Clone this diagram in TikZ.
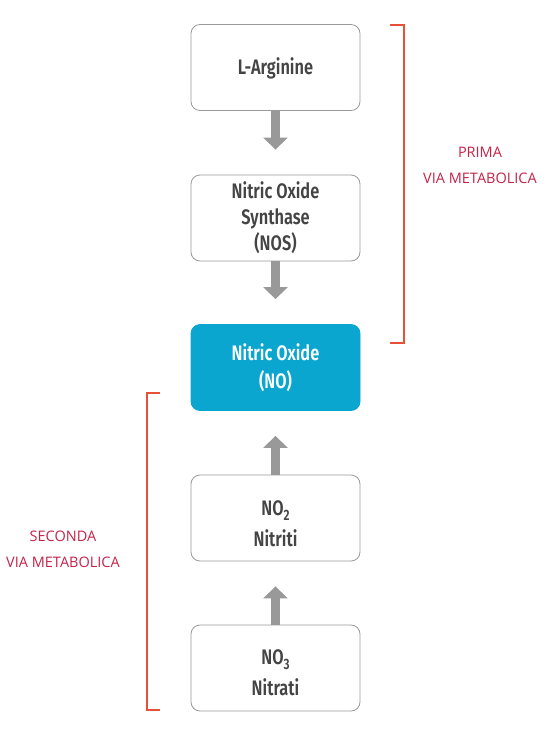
\documentclass[tikz,border=0pt]{standalone}
\usepackage{fontspec}
\usetikzlibrary{arrows.meta}
\newfontfamily\boxfont{Fira Sans}[UprightFont={* SemiBold},FakeStretch=0.78]
\newfontfamily\labfont{Open Sans}
\definecolor{boxtext}{HTML}{444444}
\definecolor{boxline}{HTML}{9A9A9A}
\definecolor{arrowgray}{HTML}{999999}
\definecolor{noblue}{HTML}{0BA6CF}
\definecolor{brackred}{HTML}{E8503A}
\definecolor{labred}{HTML}{C42348}
\newcommand{\subnum}[1]{{\fontsize{15}{15}\selectfont\raisebox{-5pt}{#1}}}
\begin{document}
\begin{tikzpicture}[x=1pt,y=-1pt,
  stepbox/.style={draw=boxline,line width=0.8pt,rounded corners=9pt,fill=white,
    minimum width=169pt,minimum height=86pt,inner sep=0pt,align=center,
    text=boxtext,font=\boxfont\fontsize{21}{26}\selectfont},
  hibox/.style={stepbox,draw=noblue,fill=noblue,text=white},
  flow/.style={draw=arrowgray,line width=9pt,shorten >=25pt,
    -{Triangle[width=24pt,length=12pt]},arrowgray},
  bracket/.style={draw=brackred,line width=1.2pt},
  lab/.style={text=labred,align=center,font=\labfont\fontsize{14.5}{26}\selectfont}]
\useasboundingbox (0,0) rectangle (553,748);
\node[stepbox] (arg) at (275.5,67.5) {\rule{0pt}{19pt}L-Arginine};
\node[stepbox] (nos) at (275.5,218) {Nitric Oxide\\Synthase\\(NOS)};
\node[hibox] (no) at (275.5,367.5) {Nitric Oxide\\[2pt](NO)};
\node[stepbox] (no2) at (275.5,518) {\rule{0pt}{27pt}NO\subnum{2}\\[5pt]Nitriti};
\node[stepbox] (no3) at (275.5,668) {\rule{0pt}{25pt}NO\subnum{3}\\[5pt]Nitrati};
\draw[flow] (arg.south) -- (nos.north);
\draw[flow] (nos.south) -- (no.north);
\draw[flow] (no2.north) -- (no.south);
\draw[flow] (no3.north) -- (no2.south);
\draw[bracket] (390,25) -- (404,25) -- (404,343) -- (390,343);
\draw[bracket] (160,393) -- (147,393) -- (147,710) -- (160,710);
\node[lab] (prima) at (480,165) {PRIMA\\VIA METABOLICA};
\node[lab] (seconda) at (63,549) {SECONDA\\VIA METABOLICA};
\end{tikzpicture}
\end{document}
